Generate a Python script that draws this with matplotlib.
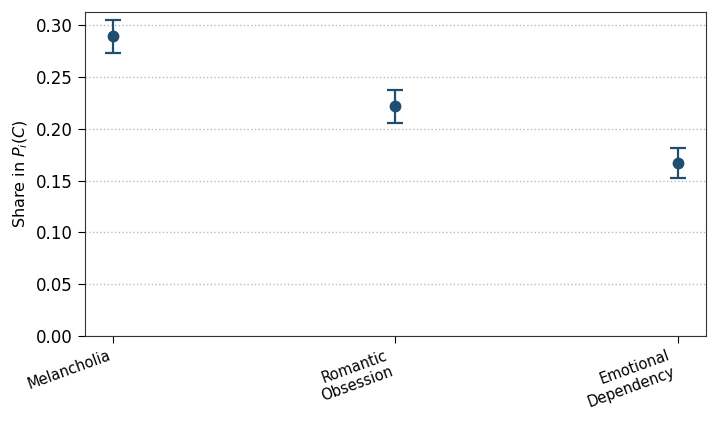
import matplotlib
matplotlib.use("Agg")
import matplotlib.pyplot as plt
import numpy as np

# Values
categories = ["Melancholia", "Romantic\nObsession", "Emotional\nDependency"]
shares = [0.289, 0.222, 0.167]
err_low = [0.016, 0.017, 0.015]
err_high = [0.016, 0.015, 0.014]

color = "#1f4e70"

fig, ax = plt.subplots(figsize=(7.18, 4.26), dpi=100)
x = np.arange(len(categories))
ax.errorbar(x, shares, yerr=[err_low, err_high], fmt="o", color=color,
            markersize=7.5, capsize=6, elinewidth=1.6, capthick=1.6, zorder=3)

ax.set_xlim(-0.1, 2.1)
ax.set_ylim(0, 0.3125)
ax.set_yticks(np.arange(0, 0.31, 0.05))
ax.yaxis.set_major_formatter(matplotlib.ticker.FormatStrFormatter('%.2f'))
ax.set_xticks(x)
ax.set_xticklabels(categories, rotation=20, ha="right", fontsize=10.5)
ax.tick_params(axis="y", labelsize=12)
ax.tick_params(length=5)
ax.set_ylabel("Share in $P_i(C)$", fontsize=11.5)
ax.yaxis.grid(True, linestyle=":", color="#bbbbbb", linewidth=1)
ax.set_axisbelow(True)
for s in ax.spines.values():
    s.set_color("#333333")

fig.subplots_adjust(left=0.118, right=0.983, top=0.972, bottom=0.211)
fig.savefig("out.png", dpi=100)
